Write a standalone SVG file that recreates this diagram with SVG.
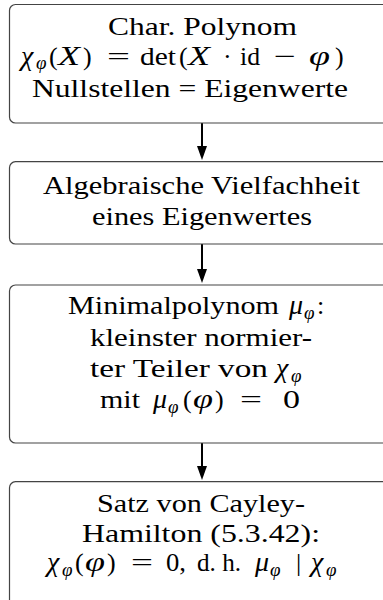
<svg xmlns="http://www.w3.org/2000/svg" width="383" height="600" viewBox="0 0 383 600">
  <defs>
    <style>
      .box { fill: #ffffff; stroke: #444444; stroke-width: 1.2; }
      .edge { stroke: #000000; stroke-width: 2; fill: none; marker-end: url(#head); }
      text { font-family: "Liberation Serif", "DejaVu Serif", serif; font-size: 26px; fill: #000000; }
      .m { font-style: italic; font-size: 28px; }
      .s { font-style: italic; font-size: 19px; }
    </style>
    <marker id="head" markerUnits="userSpaceOnUse" markerWidth="14" markerHeight="10" refX="4" refY="5" orient="auto">
      <path d="M0,0 L14,5 L0,10 z" fill="#000000"/>
    </marker>
  </defs>
  <rect width="383" height="600" fill="#ffffff"/>

  <!-- connectors -->
  <g id="edges">
    <line class="edge" x1="202" y1="123" x2="202" y2="150"/>
    <line class="edge" x1="202" y1="244" x2="202" y2="273"/>
    <line class="edge" x1="202" y1="443" x2="202" y2="470"/>
  </g>

  <!-- characteristic polynomial -->
  <g id="charpoly">
    <rect class="box" x="9.5" y="4.5" width="400" height="118.5" rx="6"/>
    <text x="108" y="35" textLength="189" lengthAdjust="spacingAndGlyphs">Char. Polynom</text>
    <text class="m" x="21" y="64.5">χ</text>
    <text class="s" x="36" y="69">φ</text>
    <text x="49" y="64.5">(</text>
    <text class="m" x="58" y="64.5" textLength="22" lengthAdjust="spacingAndGlyphs">X</text>
    <text x="83" y="64.5">)</text>
    <text x="107" y="64.5" textLength="23" lengthAdjust="spacingAndGlyphs">=</text>
    <text x="140" y="64.5" textLength="36" lengthAdjust="spacingAndGlyphs">det</text>
    <text x="179" y="64.5">(</text>
    <text class="m" x="188" y="64.5" textLength="22" lengthAdjust="spacingAndGlyphs">X</text>
    <text x="223" y="64.5">·</text>
    <text x="240" y="64.5" textLength="20" lengthAdjust="spacingAndGlyphs">id</text>
    <text x="274" y="64.5" textLength="22" lengthAdjust="spacingAndGlyphs">−</text>
    <text class="m" x="309" y="64.5" textLength="21" lengthAdjust="spacingAndGlyphs">φ</text>
    <text x="335" y="64.5" font-size="27">)</text>
    <text x="32" y="96.5" textLength="316" lengthAdjust="spacingAndGlyphs">Nullstellen = Eigenwerte</text>
  </g>

  <!-- algebraic multiplicity -->
  <g id="algmult">
    <rect class="box" x="9.5" y="161.7" width="400" height="82.3" rx="6"/>
    <text x="43" y="194" textLength="317" lengthAdjust="spacingAndGlyphs">Algebraische Vielfachheit</text>
    <text x="92" y="225" textLength="220" lengthAdjust="spacingAndGlyphs">eines Eigenwertes</text>
  </g>

  <!-- minimal polynomial -->
  <g id="minpoly">
    <rect class="box" x="9.5" y="285" width="400" height="158" rx="6"/>
    <text x="68" y="314" textLength="211" lengthAdjust="spacingAndGlyphs">Minimalpolynom</text>
    <text class="m" x="289" y="314">μ</text>
    <text class="s" x="304" y="319">φ</text>
    <text x="317" y="314">:</text>
    <text x="90" y="346" textLength="222" lengthAdjust="spacingAndGlyphs">kleinster normier-</text>
    <text x="90" y="377" textLength="178" lengthAdjust="spacingAndGlyphs">ter Teiler von</text>
    <text class="m" x="276" y="377">χ</text>
    <text class="s" x="291" y="382">φ</text>
    <text x="100" y="408" textLength="40" lengthAdjust="spacingAndGlyphs">mit</text>
    <text class="m" x="153" y="408">μ</text>
    <text class="s" x="168" y="413">φ</text>
    <text x="183" y="408">(</text>
    <text class="m" x="193" y="408" textLength="20" lengthAdjust="spacingAndGlyphs">φ</text>
    <text x="215" y="408">)</text>
    <text x="240" y="408" textLength="22" lengthAdjust="spacingAndGlyphs">=</text>
    <text x="283" y="408" textLength="17" lengthAdjust="spacingAndGlyphs">0</text>
  </g>

  <!-- Cayley-Hamilton -->
  <g id="cayley">
    <rect class="box" x="9.5" y="481.7" width="400" height="140" rx="6"/>
    <text x="97" y="512" textLength="208" lengthAdjust="spacingAndGlyphs">Satz von Cayley-</text>
    <text x="82" y="542" textLength="238" lengthAdjust="spacingAndGlyphs">Hamilton (5.3.42):</text>
    <text class="m" x="47" y="571">χ</text>
    <text class="s" x="62" y="576">φ</text>
    <text x="75" y="571">(</text>
    <text class="m" x="85" y="571" textLength="20" lengthAdjust="spacingAndGlyphs">φ</text>
    <text x="107" y="571">)</text>
    <text x="131" y="571" textLength="22" lengthAdjust="spacingAndGlyphs">=</text>
    <text x="166" y="571" textLength="20" lengthAdjust="spacingAndGlyphs">0,</text>
    <text x="197" y="571" textLength="44" lengthAdjust="spacingAndGlyphs">d. h.</text>
    <text class="m" x="255" y="571">μ</text>
    <text class="s" x="270" y="576">φ</text>
    <text x="296" y="571">|</text>
    <text class="m" x="311" y="571">χ</text>
    <text class="s" x="326" y="576">φ</text>
  </g>
</svg>
